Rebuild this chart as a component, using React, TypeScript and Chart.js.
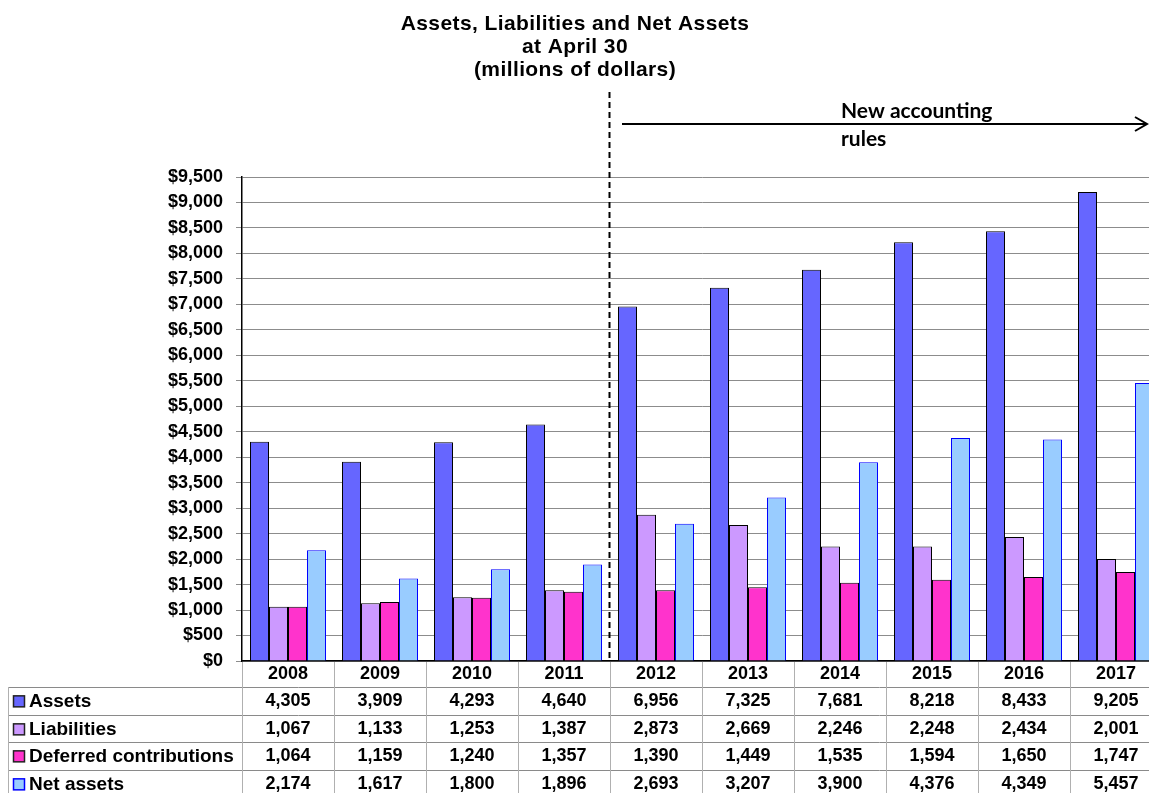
import React, { useEffect, useRef } from 'react';
import { Chart, registerables } from 'chart.js';

Chart.register(...registerables);

const years = ['2008', '2009', '2010', '2011', '2012', '2013', '2014', '2015', '2016', '2017'];
const assets = [4305, 3909, 4293, 4640, 6956, 7325, 7681, 8218, 8433, 9205];
const liabilities = [1067, 1133, 1253, 1387, 2873, 2669, 2246, 2248, 2434, 2001];
const deferredContributions = [1064, 1159, 1240, 1357, 1390, 1449, 1535, 1594, 1650, 1747];
const netAssets = [2174, 1617, 1800, 1896, 2693, 3207, 3900, 4376, 4349, 5457];
const seriesNames = ['Assets', 'Liabilities', 'Deferred contributions', 'Net assets'];
const fillColors = ['#6666FF', '#CC99FF', '#FF33CC', '#99CCFF'];
const borderColors = ['#000000', '#000000', '#000000', '#0000FF'];
const titleLines = ['Assets, Liabilities and Net Assets', 'at April 30', '(millions of dollars)'];
const noteLines = ['New accounting', 'rules'];
const yMin = 0;
const yMax = 9500;
const yStep = 500;
const ruleChangeIndex = 4;

const seriesValues = [assets, liabilities, deferredContributions, netAssets];

const W = 1170;
const H = 793;
const FONT = '"Liberation Sans", Arial, Helvetica, sans-serif';

const fmt = (v: number) => v.toLocaleString('en-US');

const overlayPlugin = {
  id: 'overlay',
  afterDraw(chart: any) {
    const ctx = chart.ctx as any;
    const xs = chart.scales.x;
    const area = chart.chartArea;
    const n = years.length;
    const colW = xs.getPixelForValue(1) - xs.getPixelForValue(0);
    ctx.save();

    // Title
    ctx.fillStyle = '#000';
    ctx.font = `bold 21px ${FONT}`;
    ctx.letterSpacing = '0.4px';
    ctx.textAlign = 'center';
    ctx.textBaseline = 'middle';
    const titleY = [24, 47, 70];
    titleLines.forEach((t, i) => ctx.fillText(t, 575, titleY[i]));
    ctx.letterSpacing = '0px';

    // Dashed separator
    const sepX = Math.round((xs.getPixelForValue(ruleChangeIndex - 1) + xs.getPixelForValue(ruleChangeIndex)) / 2) - 0.5;
    ctx.strokeStyle = '#000';
    ctx.lineWidth = 2;
    ctx.setLineDash([6, 4]);
    ctx.beginPath();
    ctx.moveTo(sepX, 92);
    ctx.lineTo(sepX, area.bottom);
    ctx.stroke();
    ctx.setLineDash([]);

    // Arrow
    const ay = 124;
    const ax0 = 622;
    const ax1 = 1147;
    ctx.lineWidth = 2;
    ctx.beginPath();
    ctx.moveTo(ax0, ay);
    ctx.lineTo(ax1, ay);
    ctx.stroke();
    ctx.beginPath();
    ctx.moveTo(ax1 - 12, ay - 7);
    ctx.lineTo(ax1, ay);
    ctx.lineTo(ax1 - 12, ay + 7);
    ctx.stroke();

    // Note text
    ctx.font = `bold 21px Lato, "Open Sans", sans-serif`;
    ctx.textAlign = 'left';
    ctx.textBaseline = 'middle';
    ctx.fillText(noteLines[0], 841, 111);
    ctx.fillText(noteLines[1], 841, 139);

    // Data table grid
    const tableLeft = 8;
    const rowTop = [687, 715, 742, 770];
    const rowH = 27.7;
    const bottom = H + 5;
    ctx.lineWidth = 1;
    ctx.strokeStyle = '#8a8a8a';
    rowTop.forEach((y) => {
      ctx.beginPath();
      ctx.moveTo(tableLeft, y + 0.5);
      ctx.lineTo(W, y + 0.5);
      ctx.stroke();
    });
    ctx.strokeStyle = '#b0b0b0';
    ctx.beginPath();
    ctx.moveTo(tableLeft + 0.5, rowTop[0]);
    ctx.lineTo(tableLeft + 0.5, bottom);
    ctx.stroke();
    for (let i = 0; i <= n; i++) {
      const x = Math.round(xs.getPixelForValue(i) - colW / 2) + 0.5;
      ctx.beginPath();
      ctx.moveTo(x, area.bottom + 1);
      ctx.lineTo(x, bottom);
      ctx.stroke();
    }

    // Year header row
    ctx.fillStyle = '#000';
    ctx.font = `bold 18px ${FONT}`;
    ctx.textAlign = 'center';
    years.forEach((y, i) => ctx.fillText(y, xs.getPixelForValue(i), 674));

    // Series rows
    seriesNames.forEach((name, r) => {
      const cy = rowTop[r] + rowH / 2 + 0.5;
      ctx.fillStyle = fillColors[r];
      ctx.fillRect(13.5, cy - 5.5, 11, 11);
      ctx.strokeStyle = r === 3 ? '#0000FF' : '#222';
      ctx.lineWidth = 1.5;
      ctx.strokeRect(13.5, cy - 5.5, 11, 11);
      ctx.fillStyle = '#000';
      ctx.textAlign = 'left';
      ctx.font = `bold 19px ${FONT}`;
      ctx.fillText(name, 29, cy);
      ctx.textAlign = 'center';
      ctx.font = `bold 18px ${FONT}`;
      seriesValues[r].forEach((v, i) => {
        ctx.fillText(fmt(v), xs.getPixelForValue(i), cy);
      });
    });
    ctx.restore();
  },
};

export default function App() {
  const ref = useRef<HTMLCanvasElement | null>(null);
  useEffect(() => {
    if (!ref.current) return;
    const chart = new Chart(ref.current, {
      type: 'bar',
      data: {
        labels: years,
        datasets: seriesNames.map((name, i) => ({
          label: name,
          data: seriesValues[i],
          backgroundColor: fillColors[i],
          borderColor: borderColors[i],
          borderWidth: 1,
          categoryPercentage: 0.826,
          barPercentage: 1,
        })),
      },
      options: {
        animation: false,
        responsive: false,
        devicePixelRatio: 1,
        layout: { padding: { left: 0, top: 177, right: 8, bottom: 0 } },
        plugins: {
          legend: { display: false },
          title: { display: false },
          tooltip: { enabled: false },
        },
        scales: {
          x: {
            grid: { display: false },
            border: { display: true, color: '#000', width: 1.5 },
            ticks: { display: false },
            afterFit(scale: any) {
              scale.height = H - 661;
            },
          },
          y: {
            min: yMin,
            max: yMax,
            grid: { color: '#8c8c8c', lineWidth: 1, tickLength: 6 },
            border: { display: true, color: '#000', width: 1.5 },
            ticks: {
              stepSize: yStep,
              color: '#000',
              padding: 13,
              font: { family: FONT, size: 18, weight: 'bold' },
              callback: (v: any) => '$' + Number(v).toLocaleString('en-US'),
            },
            afterFit(scale: any) {
              scale.width = 242;
            },
          },
        },
      },
      plugins: [overlayPlugin],
    });
    return () => chart.destroy();
  }, []);

  return (
    <div
      style={{
        position: 'fixed',
        left: 0,
        top: 0,
        width: 1149,
        height: 793,
        overflow: 'hidden',
        background: '#fff',
      }}
    >
      <canvas ref={ref} width={W} height={H} style={{ display: 'block', width: W, height: H }} />
    </div>
  );
}
